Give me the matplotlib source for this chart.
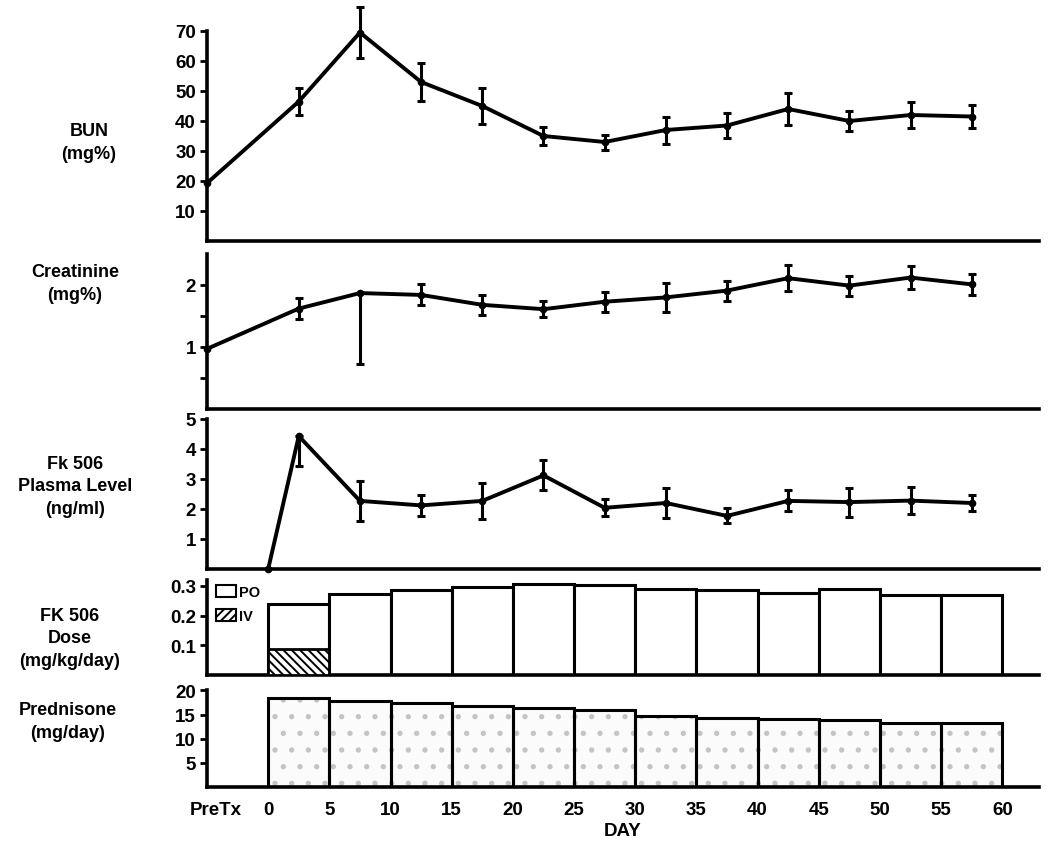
import matplotlib
matplotlib.use("Agg")
import matplotlib.pyplot as plt
from matplotlib.patches import Patch

plt.rcParams['font.family'] = ['Liberation Sans', 'DejaVu Sans']
plt.rcParams['font.weight'] = 'bold'
plt.rcParams['hatch.linewidth'] = 1.4

# ---------------- data ----------------
pretx_day = -5
period_mid = [2.5, 7.5, 12.5, 17.5, 22.5, 27.5, 32.5, 37.5, 42.5, 47.5, 52.5, 57.5]
period_start = [0, 5, 10, 15, 20, 25, 30, 35, 40, 45, 50, 55]

bun_pre = 19.3
bun = [46.5, 69.5, 53.0, 45.0, 35.0, 33.0, 37.0, 38.5, 44.0, 40.0, 42.0, 41.5]
bun_err = [4.5, 8.5, 6.3, 6.0, 3.0, 2.5, 4.5, 4.3, 5.3, 3.3, 4.2, 3.8]

creat_pre = 0.97
creat = [1.62, 1.87, 1.84, 1.68, 1.61, 1.73, 1.80, 1.91, 2.11, 1.99, 2.12, 2.01]
creat_err_lo = [0.17, 1.15, 0.17, 0.16, 0.13, 0.16, 0.24, 0.16, 0.21, 0.16, 0.19, 0.17]
creat_err_hi = [0.17, 0.00, 0.17, 0.16, 0.13, 0.16, 0.24, 0.16, 0.21, 0.16, 0.19, 0.17]

fk_day0 = 0
fk_level0 = 0.0
fk_level = [4.43, 2.27, 2.12, 2.27, 3.12, 2.04, 2.20, 1.77, 2.27, 2.23, 2.28, 2.20]
fk_err_lo = [1.00, 0.68, 0.35, 0.60, 0.50, 0.28, 0.50, 0.25, 0.35, 0.48, 0.45, 0.27]
fk_err_hi = [0.00, 0.68, 0.35, 0.60, 0.50, 0.28, 0.50, 0.25, 0.35, 0.48, 0.45, 0.27]

dose_total = [0.239, 0.273, 0.286, 0.296, 0.306, 0.303, 0.290, 0.286, 0.276, 0.290, 0.269, 0.269]
dose_iv = [0.088, 0, 0, 0, 0, 0, 0, 0, 0, 0, 0, 0]

pred = [18.5, 17.8, 17.3, 16.7, 16.4, 16.0, 14.6, 14.3, 14.1, 13.9, 13.3, 13.3]

x_ticks = [0, 5, 10, 15, 20, 25, 30, 35, 40, 45, 50, 55, 60]
pretx_label = "PreTx"

# ---------------- layout ----------------
W, H = 1050, 853
fig = plt.figure(figsize=(W / 100, H / 100), dpi=100)
L, R = 207, 1039


def make_ax(top, bottom):
    return fig.add_axes([L / W, 1 - bottom / H, (R - L) / W, (bottom - top) / H])


LW = 2.6
TICK_FS = 13.5


def style(ax, ylim, spine_top, yticks, ylabels):
    ax.set_xlim(-5, 63)
    ax.set_ylim(*ylim)
    for s in ['top', 'right']:
        ax.spines[s].set_visible(False)
    ax.spines['left'].set_linewidth(LW)
    ax.spines['bottom'].set_linewidth(LW)
    ax.spines['left'].set_bounds(ylim[0], spine_top)
    ax.set_yticks(yticks)
    ax.set_yticklabels(ylabels, fontsize=TICK_FS, fontweight='bold')
    ax.tick_params(axis='y', length=5, width=2, pad=3)
    ax.tick_params(axis='x', length=0)
    ax.set_xticks([])
    ax.patch.set_alpha(0)


# BUN
ax1 = make_ax(2, 242)
style(ax1, (0, 80), 70, [10, 20, 30, 40, 50, 60, 70], ['10', '20', '30', '40', '50', '60', '70'])
ax1.plot([pretx_day] + period_mid, [bun_pre] + bun, color='black', lw=2.8,
         marker='o', ms=4.5, clip_on=False, zorder=3)
ax1.errorbar(period_mid, bun, yerr=bun_err, fmt='none', ecolor='black',
             elinewidth=2.2, capsize=3, capthick=2.2, clip_on=False)

# Creatinine
ax2 = make_ax(255, 410)
style(ax2, (0, 2.5), 2.5, [0.5, 1, 1.5, 2], ['', '1', '', '2'])
ax2.plot([pretx_day] + period_mid, [creat_pre] + creat, color='black', lw=2.8,
         marker='o', ms=4.5, clip_on=False, zorder=3)
ax2.errorbar(period_mid, creat, yerr=[creat_err_lo, creat_err_hi], fmt='none',
             ecolor='black', elinewidth=2.2, capsize=3, capthick=2.2, clip_on=False)

# FK 506 plasma level
ax3 = make_ax(420, 570)
style(ax3, (0, 5), 5, [1, 2, 3, 4, 5], ['1', '2', '3', '4', '5'])
ax3.plot([fk_day0] + period_mid, [fk_level0] + fk_level, color='black', lw=2.8,
         marker='o', ms=4.5, clip_on=False, zorder=3)
ax3.errorbar(period_mid, fk_level, yerr=[fk_err_lo, fk_err_hi], fmt='none',
             ecolor='black', elinewidth=2.2, capsize=3, capthick=2.2, clip_on=False)

# FK 506 dose
ax4 = make_ax(581, 676)
style(ax4, (0, 0.32), 0.32, [0.1, 0.2, 0.3], ['0.1', '0.2', '0.3'])
ax4.bar(period_start, dose_total, width=5, align='edge', facecolor='white',
        edgecolor='black', linewidth=2.2, zorder=2)
ax4.bar(period_start, dose_iv, width=5, align='edge', facecolor='white',
        edgecolor='black', linewidth=0, hatch='\\\\\\\\', zorder=3)
ax4.bar(period_start, dose_iv, width=5, align='edge', facecolor='none',
        edgecolor='black', linewidth=2.0, zorder=4)
handles = [Patch(facecolor='white', edgecolor='black', linewidth=1.5),
           Patch(facecolor='white', edgecolor='black', linewidth=1.5, hatch='////')]
ax4.legend(handles, ['PO', 'IV'], loc='upper left', bbox_to_anchor=(0.0, 1.04),
           frameon=False, handlelength=1.4, handleheight=0.9, labelspacing=0.65,
           handletextpad=0.2, borderpad=0.1, prop={'weight': 'bold', 'size': 10.5})

# Prednisone
ax5 = make_ax(689, 788)
style(ax5, (0, 20.5), 20, [5, 10, 15, 20], ['5', '10', '15', '20'])
ax5.bar(period_start, pred, width=5, align='edge', facecolor='#fbfbfb',
        edgecolor='#c4c4c4', linewidth=0, hatch='.', zorder=2)
ax5.bar(period_start, pred, width=5, align='edge', facecolor='none',
        edgecolor='black', linewidth=2.2, zorder=3)
ax5.set_xticks([-4.3] + x_ticks)
ax5.set_xticklabels([pretx_label] + [str(t) for t in x_ticks], fontsize=TICK_FS,
                    fontweight='bold')
ax5.tick_params(axis='x', length=0, pad=10)
ax5.set_xlabel('DAY', fontsize=TICK_FS, fontweight='bold', labelpad=3)

# y-axis labels
lab_kw = dict(ha='center', va='center', fontsize=13, fontweight='bold',
              multialignment='center', linespacing=1.45)
fig.text(89 / W, 1 - 143 / H, 'BUN\n(mg%)', **lab_kw)
fig.text(75 / W, 1 - 284 / H, 'Creatinine\n(mg%)', **lab_kw)
fig.text(75 / W, 1 - 487 / H, 'Fk 506\nPlasma Level\n(ng/ml)', **lab_kw)
fig.text(70 / W, 1 - 639 / H, 'FK 506\nDose\n(mg/kg/day)', **lab_kw)
fig.text(68 / W, 1 - 722 / H, 'Prednisone\n(mg/day)', **lab_kw)

fig.savefig('out.png', dpi=100)
